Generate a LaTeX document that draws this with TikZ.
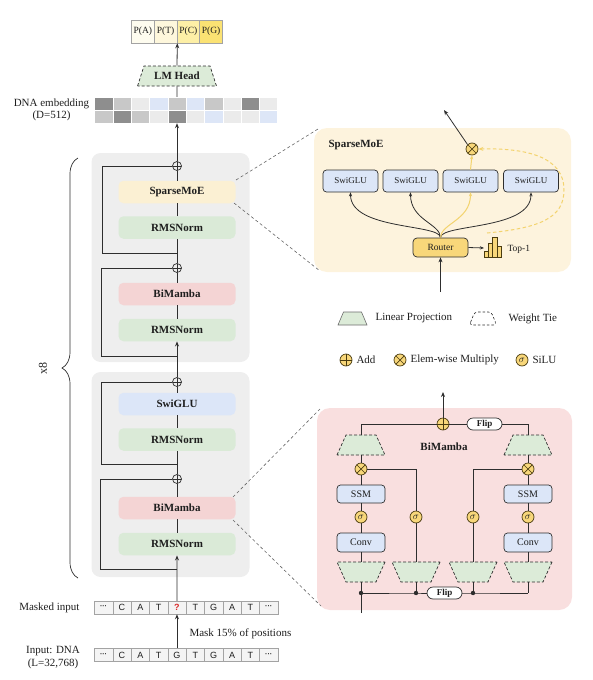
\documentclass[tikz,border=0pt]{standalone}
\usepackage{fontspec}
\setmainfont{Liberation Serif}
\newfontfamily\sansf{Liberation Sans}
\usetikzlibrary{shapes.geometric,arrows.meta,decorations.pathreplacing,calc}
\definecolor{txt}{HTML}{1E1E1E}
\definecolor{linec}{HTML}{2E2E2E}
\definecolor{blockgray}{HTML}{EEEEEE}
\definecolor{moeY}{HTML}{FBF0D3}
\definecolor{normG}{HTML}{DAEAD7}
\definecolor{mambaR}{HTML}{F4D4D4}
\definecolor{swiB}{HTML}{DCE6F8}
\definecolor{panelY}{HTML}{FDF3DD}
\definecolor{panelR}{HTML}{F9DFDF}
\definecolor{gold}{HTML}{F8D77A}
\definecolor{goldD}{HTML}{4A3C10}
\definecolor{goldline}{HTML}{F3D36E}
\definecolor{trapG}{HTML}{DCEBD8}
\definecolor{tokfill}{HTML}{F4F4F4}
\definecolor{tokdraw}{HTML}{A3A3A3}
\definecolor{qred}{HTML}{D92B2B}
\definecolor{dashc}{HTML}{666666}
\definecolor{ca}{HTML}{8E8E8E}
\definecolor{cb}{HTML}{C8C8C8}
\definecolor{cc}{HTML}{EBEBEB}
\definecolor{cd}{HTML}{DDE6F7}
\definecolor{pa}{HTML}{FEFCEF}
\definecolor{pt}{HTML}{FEF7DC}
\definecolor{pc}{HTML}{FDEFA6}
\definecolor{pg}{HTML}{FBE273}
\newcommand{\tdots}{\textbf{\fontsize{7}{7}\selectfont ···}}
\tikzset{
  >={Stealth[length=5pt,width=4pt]},
  ln/.style={draw=linec, line width=0.8pt},
  mainbox/.style={rectangle, rounded corners=5pt, minimum width=117pt, minimum height=22.5pt, inner sep=0pt, font=\fontsize{11}{13}\selectfont\bfseries, text=txt},
  grayblock/.style={rectangle, rounded corners=9pt, fill=blockgray, minimum width=158pt, inner sep=0pt},
  addmain/.style={circle, draw=linec, line width=0.7pt, fill=blockgray, minimum size=9pt, inner sep=0pt,
    path picture={\draw[linec,line width=0.7pt] (path picture bounding box.north) -- (path picture bounding box.south) (path picture bounding box.west) -- (path picture bounding box.east);}},
  goldadd/.style={circle, draw=goldD, line width=0.7pt, fill=gold, minimum size=12pt, inner sep=0pt,
    path picture={\draw[goldD,line width=0.7pt] (path picture bounding box.north) -- (path picture bounding box.south) (path picture bounding box.west) -- (path picture bounding box.east);}},
  goldmul/.style={circle, draw=goldD, line width=0.7pt, fill=gold, minimum size=12pt, inner sep=0pt,
    path picture={\draw[goldD,line width=0.7pt] (path picture bounding box.north west) -- (path picture bounding box.south east) (path picture bounding box.north east) -- (path picture bounding box.south west);}},
  sig/.style={circle, draw=goldD, line width=0.7pt, fill=gold, minimum size=12pt, inner sep=0pt, font=\fontsize{10}{10}\selectfont},
  trapz/.style={trapezium, trapezium stretches=true, trapezium left angle=#1, trapezium right angle=#1, inner sep=1pt},
  greentrap/.style={trapz=#1, fill=trapG, draw=linec, line width=0.7pt, dashed, dash pattern=on 3pt off 2pt},
  panelbox/.style={rectangle, draw=linec, line width=0.7pt, rounded corners=3.5pt, inner sep=0pt, text=txt},
  pill/.style={rectangle, rounded corners=6pt, draw=linec, line width=0.7pt, fill=white, minimum width=35pt, minimum height=12pt, inner sep=0pt, font=\fontsize{9}{9}\selectfont\bfseries},
  tok/.style={rectangle, draw=tokdraw, line width=0.5pt, fill=tokfill, minimum width=18.35pt, minimum height=13pt, inner sep=0pt, font=\sansf\fontsize{9}{9}\selectfont},
  emb/.style={rectangle, draw=white, line width=0.4pt, minimum width=18.3pt, minimum height=13pt, inner sep=0pt},
  pbox/.style={rectangle, draw=tokdraw, line width=0.6pt, minimum width=22.75pt, minimum height=23pt, inner sep=0pt, font=\fontsize{9.5}{9.5}\selectfont},
  linkdash/.style={draw=dashc, line width=0.6pt, dash pattern=on 3pt off 2.5pt},
}
\begin{document}
\begin{tikzpicture}[x=1pt,y=-1pt, font=\fontsize{11}{13}\selectfont, text=txt]
\useasboundingbox (0,0) rectangle (593,680);

% ---------- output probabilities ----------
\node[pbox, fill=pa] (pA) at (142.875,31.5) {P(A)};
\node[pbox, fill=pt] (pT) at (165.625,31.5) {P(T)};
\node[pbox, fill=pc] (pC) at (188.375,31.5) {P(C)};
\node[pbox, fill=pg] (pG) at (211.125,31.5) {P(G)};
\coordinate (pjoin) at (pT.south east);

% ---------- LM head ----------
\node[greentrap=64.6, minimum width=79pt, minimum height=20pt, font=\fontsize{11}{13}\selectfont\bfseries] (lmhead) at (177,76) {LM Head};
\draw[ln,->] (lmhead.north) -- (pjoin);

% ---------- embedding ----------
\foreach \c [count=\i] in {ca,cb,cc,cd,cb,cd,cb,cc,ca,cc}
  \node[emb, fill=\c] (e\i) at ({94.65+(\i-0.5)*18.3},103.5) {};
\foreach \c [count=\i] in {cb,ca,cb,cc,ca,cc,cd,cc,cc,cd}
  \node[emb, fill=\c] (f\i) at ({94.65+(\i-0.5)*18.3},116.5) {};
\node[align=center, font=\fontsize{11}{12.5}\selectfont] (embl) at (51.5,110) {DNA embedding\\(D=512)};
\draw[ln] (e5.north) -- (lmhead.south);

% ---------- gray blocks ----------
\node[grayblock, minimum height=209pt] (blk1) at (170.5,257.5) {};
\node[grayblock, minimum height=205pt] (blk2) at (170.5,474.5) {};

% block 1
\node[addmain] (plus1a) at (177,166) {};
\node[mainbox, fill=moeY] (moe1) at (177,192) {SparseMoE};
\node[mainbox, fill=normG] (norm1a) at (177,227.5) {RMSNorm};
\node[addmain] (plus1b) at (177,268) {};
\node[mainbox, fill=mambaR] (mamba1) at (177,294) {BiMamba};
\node[mainbox, fill=normG] (norm1b) at (177,330) {RMSNorm};
% block 2
\node[addmain] (plus2a) at (177,382) {};
\node[mainbox, fill=swiB] (swi2) at (177,404) {SwiGLU};
\node[mainbox, fill=normG] (norm2a) at (177,439.5) {RMSNorm};
\node[addmain] (plus2b) at (177,479) {};
\node[mainbox, fill=mambaR] (mamba2) at (177,508) {BiMamba};
\node[mainbox, fill=normG] (norm2b) at (177,544) {RMSNorm};

% spine
\draw[ln] (norm2b.north) -- (mamba2.south) (mamba2.north) -- (plus2b.south)
  (plus2b.north) -- (norm2a.south) (norm2a.north) -- (swi2.south) (swi2.north) -- (plus2a.south);
\draw[ln,->] (plus2a.north) -- (norm1b.south);
\draw[ln] (norm1b.north) -- (mamba1.south) (mamba1.north) -- (plus1b.south)
  (plus1b.north) -- (norm1a.south) (norm1a.north) -- (moe1.south) (moe1.north) -- (plus1a.south);
\draw[ln,->] (plus1a.north) -- (f5.south);

% residual loops
\coordinate (r1a) at (177,253);
\coordinate (r1b) at (177,356);
\coordinate (r2a) at (177,464);
\coordinate (r2b) at (177,569);
\draw[ln] (r1a) -- (102,253) -- (102,166) -- (plus1a.west);
\draw[ln] (r1b) -- (101,356) -- (101,268) -- (plus1b.west);
\draw[ln] (r2a) -- (101,464) -- (101,382) -- (plus2a.west);
\draw[ln] (r2b) -- (100,569) -- (100,479) -- (plus2b.west);

% brace
\draw[linec, line width=0.7pt, decorate, decoration={brace, amplitude=16pt}] (78,578) -- (78,158);
\node[rotate=90, font=\fontsize{12}{12}\selectfont] (x8) at (43,368) {x8};

% ---------- tokens ----------
\foreach \t [count=\i] in {\tdots,C,A,T,{\textcolor{qred}{\textbf{?}}},T,G,A,T,\tdots}
  \node[tok] (m\i) at ({94.4+(\i-0.5)*18.35},607.5) {\t};
\foreach \t [count=\i] in {\tdots,C,A,T,G,T,G,A,T,\tdots}
  \node[tok] (d\i) at ({94.4+(\i-0.5)*18.35},655) {\t};
\node[anchor=east] (mlab) at (83,607.5) {Masked input};
\node[align=center, font=\fontsize{11}{13}\selectfont] (ilab) at (53,658) {Input: DNA\\(L=32,768)};
\draw[ln,->] (d5.north) -- (m5.south);
\node[anchor=west] (masklab) at (186,634) {Mask 15\% of positions};
\draw[ln,->] (m5.north) -- (norm2b.south);

% ---------- SparseMoE panel ----------
\node[rectangle, rounded corners=13pt, fill=panelY, minimum width=257pt, minimum height=144pt, inner sep=0pt] (moeP) at (442.5,200) {};
\draw[linkdash] (236,180) -- (318,129);
\draw[linkdash] (234,203) -- (320,271);
\node[anchor=west, font=\fontsize{11}{13}\selectfont\bfseries] (moeT) at (325,145) {SparseMoE};
\node[panelbox, fill=swiB, minimum width=55pt, minimum height=22pt, font=\fontsize{9}{9}\selectfont] (sw1) at (350.5,181) {SwiGLU};
\node[panelbox, fill=swiB, minimum width=55pt, minimum height=22pt, font=\fontsize{9}{9}\selectfont] (sw2) at (410.5,181) {SwiGLU};
\node[panelbox, fill=swiB, minimum width=55pt, minimum height=22pt, font=\fontsize{9}{9}\selectfont] (sw3) at (470.5,181) {SwiGLU};
\node[panelbox, fill=swiB, minimum width=55pt, minimum height=22pt, font=\fontsize{9}{9}\selectfont] (sw4) at (531,181) {SwiGLU};
\node[panelbox, fill=gold, minimum width=55pt, minimum height=19pt, rounded corners=4pt, font=\fontsize{9.5}{9.5}\selectfont] (router) at (440.5,247.5) {Router};
\node[goldmul] (mulM) at (472,149) {};
\coordinate (rin) at (440.5,292);
\draw[ln,->] (rin) -- (router.south);
\draw[ln,-{Stealth[length=4pt,width=3.2pt]}] (router.north) .. controls +(0,-14) and +(0,38) .. (sw1.south);
\draw[ln,-{Stealth[length=4pt,width=3.2pt]}] (router.north) .. controls +(0,-14) and +(0,28) .. (sw2.south);
\draw[ln,-{Stealth[length=4pt,width=3.2pt]}] (router.north) .. controls +(0,-14) and +(0,38) .. (sw4.south);
\draw[goldline, line width=1pt,-{Stealth[length=4pt,width=3.2pt]}] (router.north) .. controls +(0,-14) and +(0,28) .. (sw3.south);
\draw[goldline, line width=1pt,-{Stealth[length=4pt,width=3.2pt]}] (sw3.north) -- (mulM.south);
% bar icon
\coordinate (barsW) at (484,248);
\draw[ln,-{Stealth[length=4pt,width=3.2pt]}] (router.east) -- (barsW);
\foreach \h [count=\i] in {251,243,237,246}
  \filldraw[fill=gold, draw=goldD, line width=0.5pt] ({484.5+(\i-1)*4.1},257) rectangle ({488.6+(\i-1)*4.1},\h);
\node[anchor=west, font=\fontsize{9.5}{9.5}\selectfont] (top1) at (504,249) {Top-1};
\coordinate (dstart) at (487,233);
\draw[goldline, line width=1pt, dash pattern=on 3.5pt off 2.5pt, ->] (dstart) .. controls (540,228) and (564,218) .. (564,190) .. controls (564,156) and (525,148) .. (mulM.east);
\coordinate (moeout) at (444,110);
\draw[ln,->] (mulM.north west) -- (moeout);

% ---------- legend ----------
\node[trapz=73, minimum width=29pt, minimum height=13pt, fill=trapG, draw=linec!70, line width=0.6pt] (legTrap) at (352.5,318.5) {};
\node[anchor=west] (legTrapT) at (372,318.5) {Linear Projection};
\node[trapz=73, minimum width=27pt, minimum height=13pt, fill=white, draw=linec, line width=0.6pt, dash pattern=on 2.5pt off 2pt, rounded corners=3pt] (legTie) at (483,318.5) {};
\node[anchor=west] (legTieT) at (505,318.5) {Weight Tie};
\node[goldadd] (legAdd) at (346,360) {};
\node[anchor=west] (legAddT) at (353,360) {Add};
\node[goldmul] (legMul) at (400,360) {};
\node[anchor=west] (legMulT) at (407,360) {Elem-wise Multiply};
\node[sig] (legSig) at (522,360) {$\sigma$};
\node[anchor=west] (legSigT) at (529,360) {SiLU};

% ---------- BiMamba panel ----------
\node[rectangle, rounded corners=13pt, fill=panelR, minimum width=255pt, minimum height=202pt, inner sep=0pt] (bimP) at (444.5,509) {};
\draw[linkdash] (233,497) -- (320,409);
\draw[linkdash] (233,520) -- (321,606);
\node[font=\fontsize{11}{13}\selectfont\bfseries] (bimT) at (444,447) {BiMamba};
\node[goldadd] (addT) at (443,424) {};
\node[pill] (flipT) at (484.5,424) {Flip};
\coordinate (bout) at (443,392);
\draw[ln,->] (addT.north) -- (bout);
\node[greentrap=73.3, minimum width=48pt, minimum height=20pt] (trTL) at (361,445) {};
\node[greentrap=73.3, minimum width=48pt, minimum height=20pt] (trTR) at (528,445) {};
\node[goldmul] (mulL) at (361,469) {};
\node[goldmul] (mulR) at (528,469) {};
\node[panelbox, fill=swiB, minimum width=48pt, minimum height=18pt, font=\fontsize{10}{10}\selectfont] (ssmL) at (361,494) {SSM};
\node[panelbox, fill=swiB, minimum width=48pt, minimum height=18pt, font=\fontsize{10}{10}\selectfont] (ssmR) at (528,494) {SSM};
\node[sig] (sigL) at (361,517) {$\sigma$};
\node[sig] (sig2) at (416,517) {$\sigma$};
\node[sig] (sig3) at (473,517) {$\sigma$};
\node[sig] (sigR) at (528,517) {$\sigma$};
\node[panelbox, fill=swiB, minimum width=48pt, minimum height=19pt, font=\fontsize{10}{10}\selectfont] (convL) at (361,542.5) {Conv};
\node[panelbox, fill=swiB, minimum width=48pt, minimum height=19pt, font=\fontsize{10}{10}\selectfont] (convR) at (528,542.5) {Conv};
\node[greentrap=73.3, minimum width=48pt, minimum height=20pt, shape border rotate=180] (trB1) at (361,572) {};
\node[greentrap=73.3, minimum width=48pt, minimum height=20pt, shape border rotate=180] (trB2) at (416,572) {};
\node[greentrap=73.3, minimum width=48pt, minimum height=20pt, shape border rotate=180] (trB3) at (473,572) {};
\node[greentrap=73.3, minimum width=48pt, minimum height=20pt, shape border rotate=180] (trB4) at (528,572) {};
\node[pill] (flipB) at (444.5,593) {Flip};
\coordinate (dt1) at (361,593);
\coordinate (dt2) at (416,593);
\coordinate (dt3) at (473,593);
\coordinate (dt4) at (528,593);
\coordinate (bin) at (361,613);

\draw[ln] (trTL.north) |- (addT.west);
\draw[ln] (addT.east) -- (flipT.west);
\draw[ln] (flipT.east) -| (trTR.north);
\draw[ln] (trTL.south) -- (mulL.north) (mulL.south) -- (ssmL.north) (ssmL.south) -- (sigL.north)
  (sigL.south) -- (convL.north) (convL.south) -- (trB1.north) (trB1.south) -- (dt1);
\draw[ln] (trTR.south) -- (mulR.north) (mulR.south) -- (ssmR.north) (ssmR.south) -- (sigR.north)
  (sigR.south) -- (convR.north) (convR.south) -- (trB4.north) (trB4.south) -- (dt4);
\draw[ln] (mulL.east) -| (sig2.north);
\draw[ln] (sig2.south) -- (trB2.north) (trB2.south) -- (dt2);
\draw[ln] (mulR.west) -| (sig3.north);
\draw[ln] (sig3.south) -- (trB3.north) (trB3.south) -- (dt3);
\draw[ln] (bin) -- (dt1) -- (dt2) -- (flipB.west);
\draw[ln] (flipB.east) -- (dt3) -- (dt4);
\foreach \p in {dt1,dt2,dt3} \fill[linec] (\p) circle (2.2pt);
\end{tikzpicture}
\end{document}
